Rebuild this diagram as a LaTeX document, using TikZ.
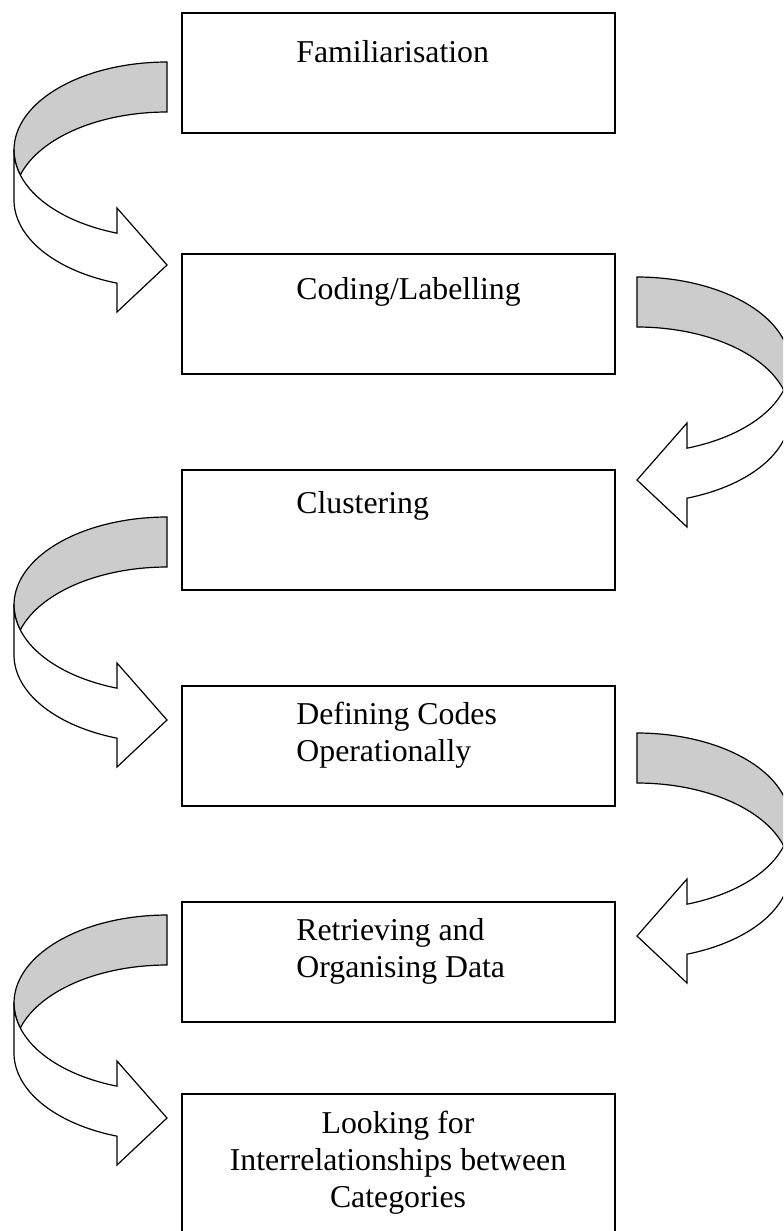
\documentclass[tikz,border=0pt]{standalone}
\usepackage{fontspec}
\setmainfont{Liberation Serif}
\definecolor{ribbonback}{HTML}{CCCCCC}

% Curved ribbon arrow; origin = top corner of the tail end,
% the band sweeps out to the left and the head points back right.
\newcommand\ribbonshape{%
  % back face of the band (shaded)
  \filldraw[ribbonedge, fill=ribbonback]
    plot[domain=270:163.5, samples=50] ({153*cos(\x)}, {88+88*sin(\x)})
    -- plot[domain=196.5:270, samples=40] ({153*cos(\x)}, {138+88*sin(\x)})
    -- cycle;
  % front face of the band with the arrow head
  \filldraw[ribbonedge, fill=white]
    (-153,88) -- (-153,138)
    -- plot[domain=180:109.07, samples=50] ({153*cos(\x)}, {138+88*sin(\x)})
    -- (-50,250) -- (0,203) -- (-50,146)
    -- plot[domain=109.07:180, samples=50] ({153*cos(\x)}, {88+88*sin(\x)})
    -- cycle;
}

\begin{document}
\begin{tikzpicture}[x=0.5pt, y=-0.5pt,
  stagebox/.style={draw, line width=0.85pt, fill=white, inner sep=0pt,
    minimum width=216.5pt, minimum height=60pt, anchor=north west},
  stagetext/.style={font=\fontsize{15.9}{18.5}\selectfont, inner sep=0pt, anchor=base west},
  centretext/.style={stagetext, anchor=base},
  ribbonedge/.style={draw=black, line width=0.6pt, line join=miter}]

\useasboundingbox (0,0) rectangle (783,1231);
\fill[white] (0,0) rectangle (783,1231);
\clip (0,0) rectangle (783,1231);

% stage boxes
\node[stagebox] (b1) at (181,12) {};
\node[stagebox] (b2) at (181,253) {};
\node[stagebox] (b3) at (181,469) {};
\node[stagebox] (b4) at (181,685) {};
\node[stagebox] (b5) at (181,901) {};
\node[stagebox, minimum height=70.5pt] (b6) at (181,1093) {};

% stage labels
\node[stagetext] (t1) at (296,62) {Familiarisation};
\node[stagetext] (t2) at (296,299) {Coding/Labelling};
\node[stagetext] (t3) at (296,513) {Clustering};
\node[stagetext] (t4a) at (296,724) {Defining Codes};
\node[stagetext] (t4b) at (296,761) {Operationally};
\node[stagetext] (t5a) at (296,940) {Retrieving and};
\node[stagetext] (t5b) at (296,977) {Organising Data};
\node[centretext] (t6a) at (398,1133) {Looking for};
\node[centretext] (t6b) at (398,1170) {Interrelationships between};
\node[centretext] (t6c) at (398,1207) {Categories};

% tail corners of the curved arrows
\coordinate (l1) at (167,62);
\coordinate (r1) at (637,277);
\coordinate (l2) at (167,517);
\coordinate (r2) at (637,733);
\coordinate (l3) at (167,915);

\begin{scope}[shift={(l1)}] \ribbonshape \end{scope}
\begin{scope}[shift={(r1)}, xscale=-1] \ribbonshape \end{scope}
\begin{scope}[shift={(l2)}] \ribbonshape \end{scope}
\begin{scope}[shift={(r2)}, xscale=-1] \ribbonshape \end{scope}
\begin{scope}[shift={(l3)}] \ribbonshape \end{scope}

\end{tikzpicture}
\end{document}
